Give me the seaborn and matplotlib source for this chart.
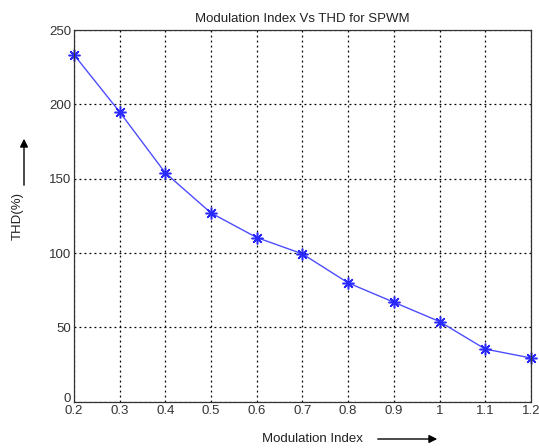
import pandas as pd
import numpy as np
import seaborn as sns
import matplotlib
matplotlib.use('Agg')
import matplotlib.pyplot as plt
from matplotlib.transforms import ScaledTranslation

# data
mod_index = [0.2, 0.3, 0.4, 0.5, 0.6, 0.7, 0.8, 0.9, 1.0, 1.1, 1.2]
thd = [233.5, 195, 154, 127, 110.5, 99.5, 80, 67, 54, 35.5, 29.5]
x_ticks = [0.2, 0.3, 0.4, 0.5, 0.6, 0.7, 0.8, 0.9, 1.0, 1.1, 1.2]
x_tick_labels = ['0.2', '0.3', '0.4', '0.5', '0.6', '0.7', '0.8', '0.9', '1', '1.1', '1.2']
y_ticks = [0, 50, 100, 150, 200, 250]

df = pd.DataFrame({'mi': mod_index, 'thd': thd})

sns.set_style('white')
plt.rcParams['font.family'] = ['Liberation Sans', 'DejaVu Sans']

fig = plt.figure(figsize=(5.39, 4.48), dpi=100)
ax = fig.add_axes([0.137, 0.103, 0.848, 0.83])

sns.lineplot(data=df, x='mi', y='thd', ax=ax, color='#4d4dff', linewidth=1.0,
             marker=(8, 2, 0), markersize=8.5, markeredgewidth=1.1,
             markeredgecolor='#2a2aff', clip_on=False)

ax.set_xlim(0.2, 1.2)
ax.set_ylim(0, 250)
ax.set_xticks(x_ticks)
ax.set_xticklabels(x_tick_labels)
ax.set_yticks(y_ticks)
ax.tick_params(direction='in', length=4, labelsize=9.5, colors='#333333', pad=2)
ax.grid(True, linestyle=(0, (1.5, 2.5)), color='black', linewidth=0.9)
for s in ax.spines.values():
    s.set_color('#333333')
    s.set_linewidth(0.9)

# nudge the "0" label up a touch so it doesn't sit on "0.2"
lbl0 = ax.get_yticklabels()[0]
lbl0.set_transform(lbl0.get_transform() + ScaledTranslation(0, 4 / 100, fig.dpi_scale_trans))

ax.set_xlabel('')
ax.set_ylabel('')
ax.set_title('Modulation Index Vs THD for SPWM', fontsize=9.5, pad=6, color='#222222')

# axis labels with arrows, MATLAB style
fig.text(262 / 539, 1 - 439 / 448, 'Modulation Index', fontsize=9.5, ha='left', va='center',
         color='#222222')
fig.add_artist(matplotlib.patches.FancyArrowPatch(
    (375 / 539, 1 - 439 / 448), (440 / 539, 1 - 439 / 448), transform=fig.transFigure,
    arrowstyle='-|>', mutation_scale=12, color='black', linewidth=1.0))
fig.text(18 / 539, 1 - 216 / 448, 'THD(%)', fontsize=9.5, rotation=90, ha='center', va='center',
         color='#222222')
fig.add_artist(matplotlib.patches.FancyArrowPatch(
    (24 / 539, 1 - 188 / 448), (24 / 539, 1 - 136 / 448), transform=fig.transFigure,
    arrowstyle='-|>', mutation_scale=12, color='black', linewidth=1.0))

fig.savefig('out.png', dpi=100)
